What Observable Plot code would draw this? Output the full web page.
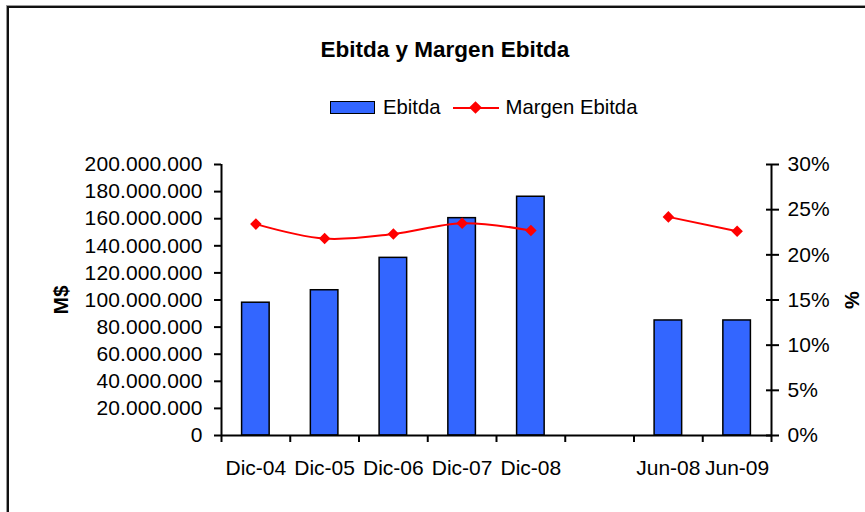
<!DOCTYPE html>
<html>
<head>
<meta charset="utf-8">
<script src="https://cdn.jsdelivr.net/npm/d3@7"></script>
<script src="https://cdn.jsdelivr.net/npm/@observablehq/plot@0.6"></script>
<style>
  html, body { margin: 0; padding: 0; background: #fff; }
  #wrap { position: relative; width: 865px; height: 512px; overflow: hidden; font-family: "Liberation Sans", Arial, sans-serif; }
  #frame { position: absolute; left: 7px; top: 6px; width: 900px; height: 600px; border-left: 2px solid #111; border-top: 2px solid #111; box-shadow: -1px -1px 0 #999; }
  #title { position: absolute; left: 0; width: 890px; top: 37px; text-align: center; font-weight: bold; font-size: 22.5px; line-height: 26px; color: #000; }
  #legend { position: absolute; left: 330px; top: 96px; height: 23px; display: flex; align-items: center; font-size: 20.3px; color: #000; }
  #legend .sw { box-sizing: border-box; width: 45px; height: 13px; background: #3366FF; border: 1.5px solid #000; margin-right: 8px; }
  #legend .ln { position: relative; width: 46px; height: 2px; background: #FF0000; margin: 0 7px 0 12px; }
  #legend .ln::after { content: ""; position: absolute; left: 18px; top: -3.5px; width: 9px; height: 9px; background: #FF0000; transform: rotate(45deg); }
  #chart { position: absolute; left: 0; top: 140px; }
  #chart g[aria-label="y-axis tick label"] text { letter-spacing: 0.1px; }
</style>
</head>
<body>
<div id="wrap">
  <div id="frame"></div>
  <div id="title">Ebitda y Margen Ebitda</div>
  <div id="legend"><div class="sw"></div><span>Ebitda</span><div class="ln"></div><span>Margen Ebitda</span></div>
  <div id="chart"></div>
</div>
<script>
const categories = ["Dic-04", "Dic-05", "Dic-06", "Dic-07", "Dic-08", "", "Jun-08", "Jun-09"];
const ebitda = [98000000, 107200000, 131100000, 160400000, 176200000, null, 84900000, 84900000];
const margen = [0.234, 0.218, 0.223, 0.235, 0.227, null, 0.242, 0.226];
const leftTicks = [0, 20000000, 40000000, 60000000, 80000000, 100000000, 120000000, 140000000, 160000000, 180000000, 200000000];
const rightTicks = [0, 0.05, 0.10, 0.15, 0.20, 0.25, 0.30];
const leftMax = 200000000;
const rightMax = 0.30;

const k = leftMax / rightMax;
const data = categories.map((c, i) => ({
  i, c,
  e: ebitda[i],
  m: margen[i] == null ? NaN : margen[i] * k
}));
const bars = data.filter(d => d.e != null);
const pts = data.filter(d => !isNaN(d.m));

const loc = d3.formatLocale({decimal: ",", thousands: ".", grouping: [3], currency: ["$", ""]});
const fmtLeft = loc.format(",d");
const fmtPct = v => Math.round(v / k * 100) + "%";
const idx = d3.range(categories.length + 1);
const centers = categories.map((c, i) => i + 0.5);

const chart = Plot.plot({
  width: 865,
  height: 372,
  marginLeft: 221,
  marginRight: 94,
  marginTop: 24,
  marginBottom: 77,
  style: { fontFamily: "Liberation Sans, Arial, sans-serif", fontSize: "21px", color: "#000", background: "transparent" },
  x: { type: "linear", domain: [0, categories.length], label: null },
  y: { domain: [0, leftMax], label: null },
  marks: [
    Plot.rectY(bars, { x1: d => d.i, x2: d => d.i + 1, y: "e", insetLeft: 20.6, insetRight: 20.6, fill: "#3366FF", stroke: "#000", strokeWidth: 1.5 }),
    Plot.line(data, { x: d => d.i + 0.5, y: "m", stroke: "#FF0000", strokeWidth: 2, curve: "catmull-rom" }),
    Plot.dot(pts, { x: d => d.i + 0.5, y: "m", symbol: "diamond2", fill: "#FF0000", stroke: null, r: 5.2 }),
    Plot.ruleX([0], { stroke: "#000", strokeWidth: 2 }),
    Plot.ruleX([categories.length], { stroke: "#000", strokeWidth: 2 }),
    Plot.ruleY([0], { stroke: "#000", strokeWidth: 2 }),
    Plot.axisY({ anchor: "left", ticks: leftTicks, tickFormat: fmtLeft, tickSize: 7, tickPadding: 12, strokeWidth: 2, label: null, fontSize: 21 }),
    Plot.axisY({ anchor: "right", ticks: rightTicks.map(v => v * k), tickFormat: () => "", tickSize: 13, dx: -6, strokeWidth: 2, label: null }),
    Plot.axisY({ anchor: "right", ticks: rightTicks.map(v => v * k), tickFormat: fmtPct, tickSize: 0, tickPadding: 16, label: null, fontSize: 21 }),
    Plot.axisX({ anchor: "bottom", ticks: idx, tickFormat: () => "", tickSize: 7, strokeWidth: 2, label: null }),
    Plot.axisX({ anchor: "bottom", ticks: centers, tickFormat: v => categories[Math.floor(v)], tickSize: 0, tickPadding: 25, label: null, fontSize: 21 }),
    Plot.text(["M$"], { frameAnchor: "left", dx: -160, rotate: -90, textAnchor: "middle", fontWeight: "bold", fontSize: 21 }),
    Plot.text(["%"], { frameAnchor: "right", dx: 81, rotate: -90, textAnchor: "middle", fontWeight: "bold", fontSize: 20 })
  ]
});
document.getElementById("chart").appendChild(chart);
</script>
</body>
</html>
